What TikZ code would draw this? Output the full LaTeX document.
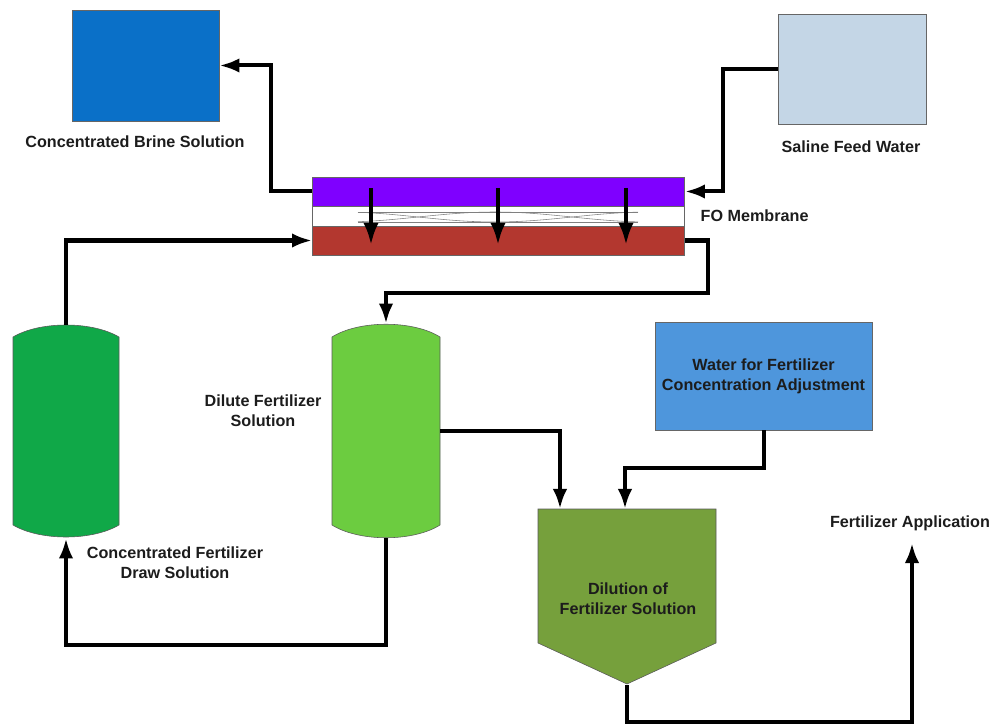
\documentclass[tikz,border=0pt]{standalone}
\usepackage{fontspec}
\setmainfont{Liberation Sans}
\usepackage{tikz}
\usetikzlibrary{arrows.meta}

\definecolor{brineblue}{RGB}{10,112,200}
\definecolor{salineblue}{RGB}{196,214,230}
\definecolor{membpurple}{RGB}{127,0,255}
\definecolor{membred}{RGB}{179,55,47}
\definecolor{drawgreen}{RGB}{16,168,72}
\definecolor{dilgreen}{RGB}{108,204,64}
\definecolor{mixgreen}{RGB}{118,160,60}
\definecolor{waterblue}{RGB}{78,150,220}
\definecolor{labeltext}{RGB}{28,28,28}

\tikzset{
  flow/.style={line width=0.1cm, -{Latex[length=0.5cm,width=0.36cm]}},
  tankbox/.style={draw=gray!80!black, thin, inner sep=0pt},
  plainbox/.style={draw=none, inner sep=0pt},
  lbl/.style={font=\bfseries\fontsize{11.5}{14}\selectfont, text=labeltext, align=center, inner sep=1pt}
}

\begin{document}
\begin{tikzpicture}[x=0.025cm, y=-0.025cm]
\useasboundingbox (0,0) rectangle (991,728);

% storage tanks
\node[tankbox, fill=brineblue, minimum width=3.675cm, minimum height=2.775cm] (brine) at (145.5,65.5) {};
\node[lbl] (brinelbl) at (135,142) {Concentrated Brine Solution};

\node[tankbox, fill=salineblue, minimum width=3.7cm, minimum height=2.75cm] (saline) at (852,69) {};
\node[lbl] (salinelbl) at (851,147) {Saline Feed Water};

% FO membrane
\node[tankbox, fill=membpurple, minimum width=9.3cm, minimum height=0.725cm] (mtop) at (498.5,191.5) {};
\node[tankbox, fill=white, minimum width=9.3cm, minimum height=0.5cm] (mmid) at (498.5,216) {};
\node[tankbox, fill=membred, minimum width=9.3cm, minimum height=0.725cm] (mbot) at (498.5,240.5) {};
\node[lbl, anchor=west] (memblbl) at (699,216) {FO Membrane};

\draw[gray, thin] (358,212) -- (638,212);
\draw[gray, thin] (358,222) -- (638,222);
\draw[gray, thin] plot[domain=358:638, samples=60] (\x, {217-5*cos((\x-495)*1.1688)});
\draw[gray, thin] plot[domain=358:638, samples=60] (\x, {217+5*cos((\x-495)*1.1688)});

\coordinate (pa1) at (371,188);
\coordinate (pb1) at (371,245);
\coordinate (pa2) at (498,188);
\coordinate (pb2) at (498,245);
\coordinate (pa3) at (626,188);
\coordinate (pb3) at (626,245);
\draw[flow, -{Latex[length=0.55cm,width=0.38cm]}] (pa1) -- (pb1);
\draw[flow, -{Latex[length=0.55cm,width=0.38cm]}] (pa2) -- (pb2);
\draw[flow, -{Latex[length=0.55cm,width=0.38cm]}] (pa3) -- (pb3);

% draw solution tank
\node[plainbox, minimum width=2.65cm, minimum height=5.325cm] (dtank) at (66,431.5) {};
\draw[fill=drawgreen, draw=gray!70!black, thin]
  (13,337) .. controls (40,321) and (92,321) .. (119,337) -- (119,525)
  .. controls (92,541) and (40,541) .. (13,525) -- cycle;
\node[lbl] (dtanklbl) at (175,563) {Concentrated Fertilizer\\Draw Solution};

% dilute solution tank
\node[plainbox, minimum width=2.7cm, minimum height=5.35cm] (ltank) at (386,431) {};
\draw[fill=dilgreen, draw=gray!70!black, thin]
  (332,337) .. controls (359,320) and (413,320) .. (440,337) -- (440,525)
  .. controls (413,542) and (359,542) .. (332,525) -- cycle;
\node[lbl] (ltanklbl) at (263,411) {Dilute Fertilizer\\Solution};

% water for adjustment
\node[tankbox, fill=waterblue, minimum width=5.425cm, minimum height=2.7cm, lbl] (water) at (763.5,376) {Water for Fertilizer\\Concentration Adjustment};

% dilution vessel
\node[plainbox, minimum width=4.45cm, minimum height=4.425cm] (dil) at (627,596.5) {};
\draw[fill=mixgreen, draw=gray!70!black, thin]
  (538,509) -- (716,509) -- (716,643) -- (627,684) -- (538,643) -- cycle;
\node[lbl] (diltxt) at (628,599) {Dilution of\\Fertilizer Solution};
\coordinate (dilin1) at (560,509);
\coordinate (dilin2) at (625,509);

% application
\coordinate (app) at (912,543);
\node[lbl] (applbl) at (910,523) {Fertilizer Application};

% flows
\draw[flow] (mtop.west) -- ++(-41,0) |- (brine.east);
\draw[flow] (saline.west) -- ++(-55,0) |- (mtop.east);
\draw[flow] (dtank.north) |- (mbot.west);
\draw[flow] (mbot.east) -- ++(23,0) -- ++(0,52) -| (ltank.north);
\draw[flow] (ltank.east) -| (dilin1);
\draw[flow] (water.south) -- ++(0,38) -| (dilin2);
\draw[flow] (ltank.south) -- ++(0,107) -| (dtank.south);
\draw[flow] (dil.south) -- ++(0,37) -| (app);
\end{tikzpicture}
\end{document}
